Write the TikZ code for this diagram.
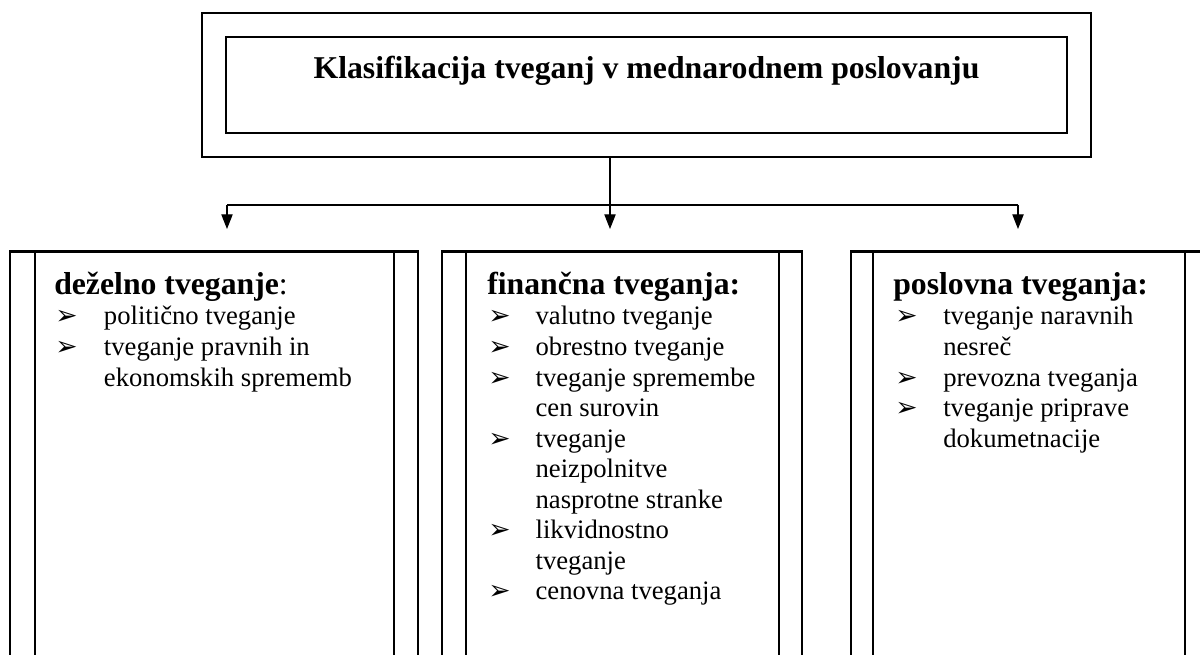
\documentclass[tikz,border=0pt]{standalone}
\usepackage{fontspec}
\setmainfont{Liberation Serif}
\newfontfamily\dingfont{DejaVu Sans}
\usetikzlibrary{arrows.meta}
\newcommand{\bul}{{\dingfont\fontsize{20}{20}\selectfont ➢}}
\tikzset{
  frame/.style={draw, line width=1.1pt, inner sep=0pt},
  colbox/.style={draw, line width=0.9pt, inner sep=0pt, minimum height=336pt},
  topline/.style={line width=1.7pt},
  conn/.style={line width=0.8pt},
  arr/.style={conn, -{Triangle[length=11pt,width=8.5pt]}},
  titletext/.style={anchor=base, inner sep=0pt, font=\fontsize{23.8}{27}\selectfont\bfseries},
  head/.style={anchor=base west, inner sep=0pt, font=\fontsize{23.8}{27}\selectfont\bfseries},
  lst/.style={anchor=base west, inner sep=0pt, font=\fontsize{20}{22.9}\selectfont},
}
\begin{document}
\begin{tikzpicture}[x=0.75pt, y=-0.75pt]
\useasboundingbox (0,0) rectangle (1200,655);
% top box
\node[frame, minimum width=666.75pt, minimum height=108pt] (outer) at (646.5,85) {};
\node[frame, minimum width=630.75pt, minimum height=72pt] (inner) at (646.5,85) {};
\node[titletext] (title) at (646.5,79) {Klasifikacija tveganj v mednarodnem poslovanju};
% connectors
\coordinate (j) at (610,205);
\coordinate (jl) at (227,205);
\coordinate (jr) at (1018,205);
\coordinate (tl) at (227,229);
\coordinate (tm) at (610,229);
\coordinate (tr) at (1018,229);
\draw[conn] (j |- outer.south) -- (j);
\draw[conn] (jl) -- (jr);
\draw[arr] (jl) -- (tl);
\draw[arr] (j) -- (tm);
\draw[arr] (jr) -- (tr);
% lower boxes
\begin{scope}
\clip (0,0) rectangle (1200,655);
\node[colbox, minimum width=306pt] (b1) at (214,476) {};
\node[colbox, minimum width=269.25pt] (b1i) at (214.5,476) {};
\node[colbox, minimum width=270pt] (b2) at (622,476) {};
\node[colbox, minimum width=234.75pt] (b2i) at (622.5,476) {};
\node[colbox, minimum width=268.5pt] (b3) at (1030,476) {};
\node[colbox, minimum width=234pt] (b3i) at (1029,476) {};
\draw[topline] (b1.north west) -- (b1.north east);
\draw[topline] (b2.north west) -- (b2.north east);
\draw[topline] (b3.north west) -- (b3.north east);
\end{scope}
% texts
\node[head] (h1) at (54,295) {deželno tveganje\textmd{:}};
\node[lst] (l1) at (55,325) {\begin{tabular}[t]{@{}p{36.5pt}@{}l@{}}
\bul & politično tveganje\\
\bul & tveganje pravnih in\\
 & ekonomskih sprememb
\end{tabular}};
\node[head] (h2) at (487,295) {finančna tveganja:};
\node[lst] (l2) at (488,325) {\begin{tabular}[t]{@{}p{35.5pt}@{}l@{}}
\bul & valutno tveganje\\
\bul & obrestno tveganje\\
\bul & tveganje spremembe\\
 & cen surovin\\
\bul & tveganje\\
 & neizpolnitve\\
 & nasprotne stranke\\
\bul & likvidnostno\\
 & tveganje\\
\bul & cenovna tveganja
\end{tabular}};
\node[head] (h3) at (893,295) {poslovna tveganja:};
\node[lst] (l3) at (895,325) {\begin{tabular}[t]{@{}p{36pt}@{}l@{}}
\bul & tveganje naravnih\\
 & nesreč\\
\bul & prevozna tveganja\\
\bul & tveganje priprave\\
 & dokumetnacije
\end{tabular}};
\end{tikzpicture}
\end{document}
